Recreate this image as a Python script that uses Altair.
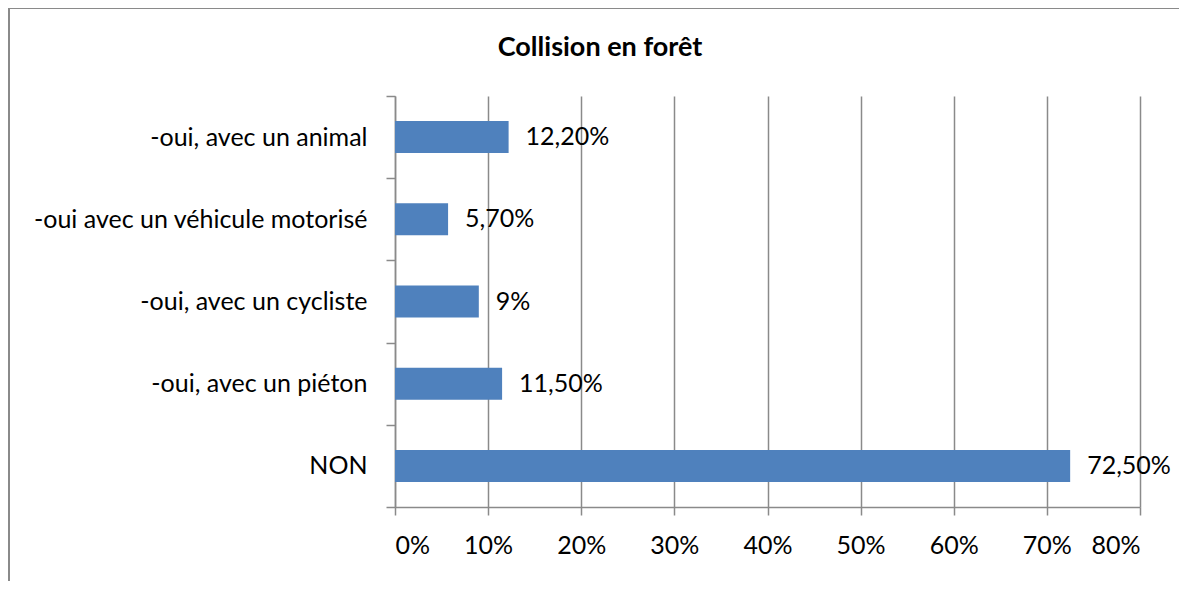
import altair as alt
import pandas as pd

title_text = "Collision en forêt"
categories = [
    "-oui, avec un animal",
    "-oui avec un véhicule motorisé",
    "-oui, avec un cycliste",
    "-oui, avec un piéton",
    "NON",
]
values = [0.122, 0.057, 0.09, 0.115, 0.725]
value_labels = ["12,20%", "5,70%", "9%", "11,50%", "72,50%"]
x_ticks = [0, 0.1, 0.2, 0.3, 0.4, 0.5, 0.6, 0.7, 0.8]

df = pd.DataFrame({"cat": categories, "val": values, "lab": value_labels})

W, H = 745, 411
FONT = "Lato"
GRAY = "#8a8a8a"
BLUE = "#4F81BD"
LW = 1.5

y_enc = alt.Y(
    "cat:N",
    sort=categories,
    title=None,
    scale=alt.Scale(paddingInner=0, paddingOuter=0),
    axis=alt.Axis(
        tickBand="extent",
        tickSize=9,
        labelPadding=19,
        domainColor=GRAY,
        domainWidth=LW,
        tickColor=GRAY,
        tickWidth=LW,
        labelFont=FONT,
        labelFontSize=25,
        labelColor="black",
        grid=False,
        labelLimit=600,
    ),
)
x_enc = alt.X(
    "val:Q",
    title=None,
    scale=alt.Scale(domain=[0, 0.8], nice=False),
    axis=alt.Axis(
        values=x_ticks,
        format=".0%",
        grid=True,
        gridColor=GRAY,
        gridWidth=LW,
        gridOpacity=1,
        domainColor=GRAY,
        domainWidth=LW,
        tickColor=GRAY,
        tickWidth=LW,
        tickSize=8,
        labelPadding=18,
        labelFont=FONT,
        labelFontSize=25,
        labelColor="black",
    ),
)

base = alt.Chart(df)
bars = base.mark_bar(size=32, color=BLUE).encode(y=y_enc, x=x_enc)
texts = base.mark_text(
    align="left", baseline="middle", dx=17, font=FONT, fontSize=25, color="black"
).encode(y=alt.Y("cat:N", sort=categories), x="val:Q", text="lab:N")

one = pd.DataFrame({"t": [title_text]})
border = alt.Chart(one).mark_rect(
    fill="transparent", stroke=GRAY, strokeWidth=2
).encode(
    x=alt.value(-386), x2=alt.value(W + 400), y=alt.value(-88), y2=alt.value(H + 400)
)
title = alt.Chart(one).mark_text(
    align="center", baseline="middle", font=FONT, fontSize=27, fontWeight="bold", color="black"
).encode(x=alt.value(205), y=alt.value(-48), text="t:N")

chart = (
    alt.layer(bars, texts, border, title)
    .properties(
        width=W,
        height=H,
        autosize=alt.AutoSizeParams(type="none"),
        padding={"left": 387, "top": 88, "right": 39, "bottom": 74},
        background="white",
    )
    .configure_view(stroke=None)
)

chart.save("out.html", embed_options={"renderer": "svg", "actions": False})
